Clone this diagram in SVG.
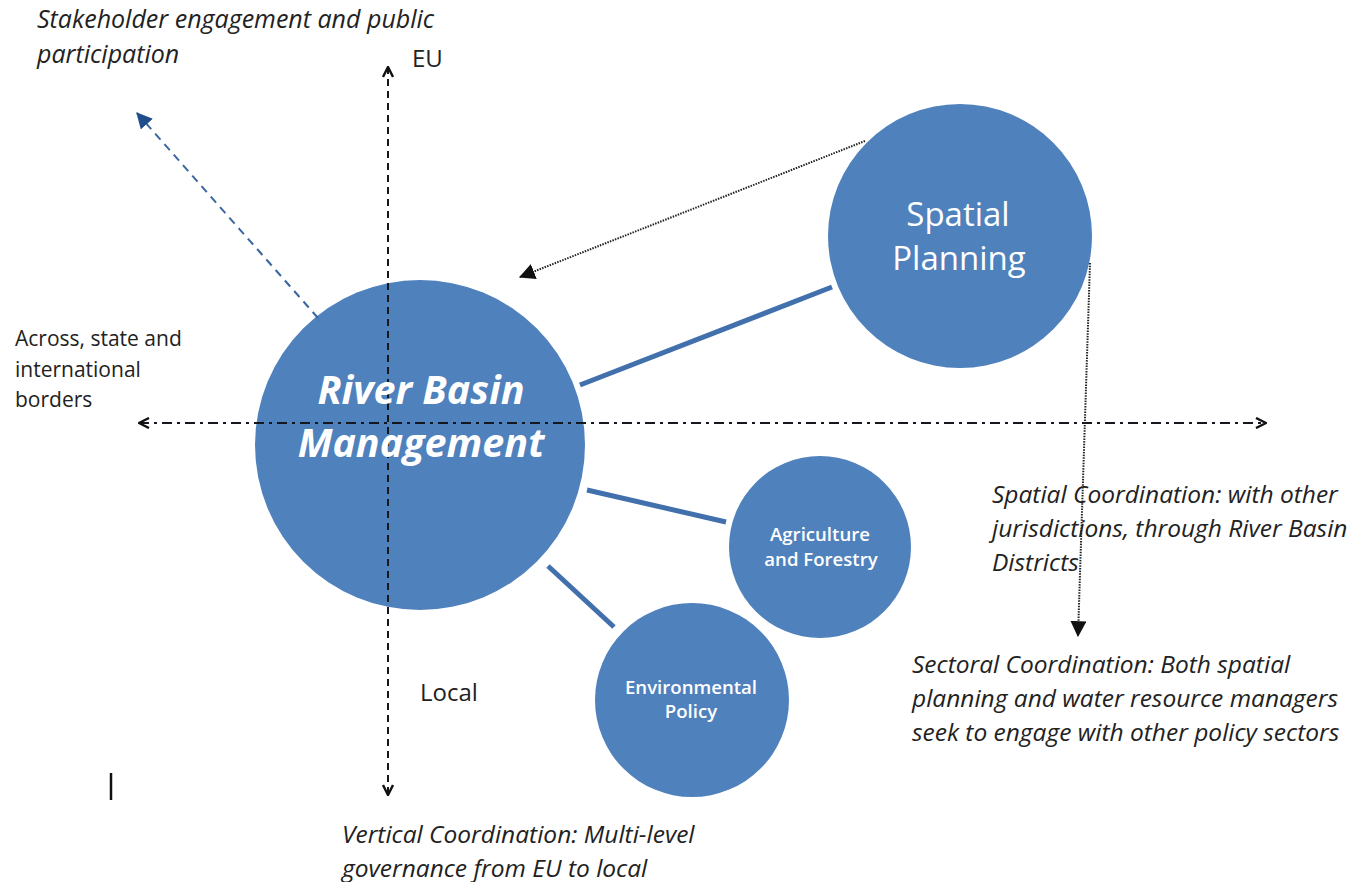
<svg xmlns="http://www.w3.org/2000/svg" width="1365" height="882" viewBox="0 0 1365 882">
<defs>
<style>
.node{fill:#4f81bd;}
.lbl{font-family:"Open Sans","Liberation Sans",sans-serif;fill:#222;}
.it{font-style:italic;font-size:24.5px;}
.w{fill:#fff;text-anchor:middle;font-family:"Open Sans","Liberation Sans",sans-serif;}
.sm{font-size:18.6px;font-weight:600;}
.link{stroke:#4270ad;stroke-width:5;fill:none;}
.vaxis{stroke:#15171f;stroke-width:2;stroke-dasharray:7 5;fill:none;}
.haxis{stroke:#15171f;stroke-width:2;stroke-dasharray:10 5 3 5;fill:none;}
.dot{stroke:#222;stroke-width:2;stroke-dasharray:1.5 1.2;fill:none;}
.bdash{stroke:#3a66a0;stroke-width:2;stroke-dasharray:8 6;fill:none;}
</style>
<marker id="open" viewBox="0 0 12 12" refX="11" refY="6" markerWidth="12" markerHeight="12" markerUnits="userSpaceOnUse" orient="auto-start-reverse">
<path d="M1,1 L11,6 L1,11" fill="none" stroke="#111" stroke-width="2.4"/>
</marker>
<marker id="tri" viewBox="0 0 14 14" refX="13" refY="7" markerWidth="16" markerHeight="16" markerUnits="userSpaceOnUse" orient="auto">
<path d="M0,0 L14,7 L0,14 Z" fill="#111"/>
</marker>
<marker id="tribl" viewBox="0 0 14 14" refX="13" refY="7" markerWidth="16" markerHeight="16" markerUnits="userSpaceOnUse" orient="auto">
<path d="M0,0 L14,7 L0,14 Z" fill="#1f4e8c"/>
</marker>
</defs>
<rect width="1365" height="882" fill="#fff"/>

<g id="nodes">
<g id="river-basin">
<circle class="node" cx="420" cy="445" r="165"/>
</g>
<g id="spatial-planning">
<circle class="node" cx="960" cy="236" r="132"/>
<text class="w" x="958" y="226" font-size="33">Spatial</text>
<text class="w" x="959" y="270" font-size="33">Planning</text>
</g>
<g id="agriculture">
<circle class="node" cx="820" cy="547" r="91"/>
<text class="w sm" x="820" y="541" >Agriculture</text>
<text class="w sm" x="821" y="566">and Forestry</text>
</g>
<g id="environmental">
<circle class="node" cx="692" cy="700" r="97"/>
<text class="w sm" x="691" y="694">Environmental</text>
<text class="w sm" x="691" y="718">Policy</text>
</g>
</g>

<g id="connectors">
<line class="link" x1="580" y1="385" x2="832" y2="287"/>
<line class="link" x1="587" y1="490" x2="726" y2="522"/>
<line class="link" x1="548" y1="566" x2="614" y2="627"/>
<line class="vaxis" x1="388" y1="67" x2="388" y2="795" marker-start="url(#open)" marker-end="url(#open)"/>
<line class="haxis" x1="139" y1="423" x2="1266" y2="423" marker-start="url(#open)" marker-end="url(#open)"/>
<line class="bdash" x1="318" y1="318" x2="137" y2="113" marker-end="url(#tribl)"/>
<line class="dot" x1="865" y1="141" x2="520" y2="277" marker-end="url(#tri)"/>
<line class="dot" x1="1090" y1="263" x2="1078" y2="636" marker-end="url(#tri)"/>
</g>

<g id="rbm-label">
<text class="w" x="421" y="404" font-size="39.5" font-weight="bold" font-style="italic">River Basin</text>
<text class="w" x="421" y="457" font-size="39.5" font-weight="bold" font-style="italic">Management</text>
</g>

<g id="labels">
<text class="lbl it" x="37" y="28" style="font-size:25px">Stakeholder engagement and public</text>
<text class="lbl it" x="37" y="63" style="font-size:25px">participation</text>
<text class="lbl" x="412" y="67" font-size="24">EU</text>
<text class="lbl" x="15" y="346" font-size="21">Across, state and</text>
<text class="lbl" x="15" y="377" font-size="21">international</text>
<text class="lbl" x="15" y="407" font-size="21">borders</text>
<text class="lbl" x="420" y="701" font-size="24">Local</text>
<line x1="111" y1="773" x2="111" y2="800" stroke="#111" stroke-width="2.5"/>
<text class="lbl it" x="342" y="843">Vertical Coordination: Multi-level</text>
<text class="lbl it" x="342" y="877">governance from EU to local</text>
<text class="lbl it" x="992" y="503">Spatial Coordination: with other</text>
<text class="lbl it" x="992" y="537">jurisdictions, through River Basin</text>
<text class="lbl it" x="992" y="571">Districts</text>
<text class="lbl it" x="912" y="673">Sectoral Coordination: Both spatial</text>
<text class="lbl it" x="912" y="707">planning and water resource managers</text>
<text class="lbl it" x="912" y="741">seek to engage with other policy sectors</text>
</g>
</svg>
